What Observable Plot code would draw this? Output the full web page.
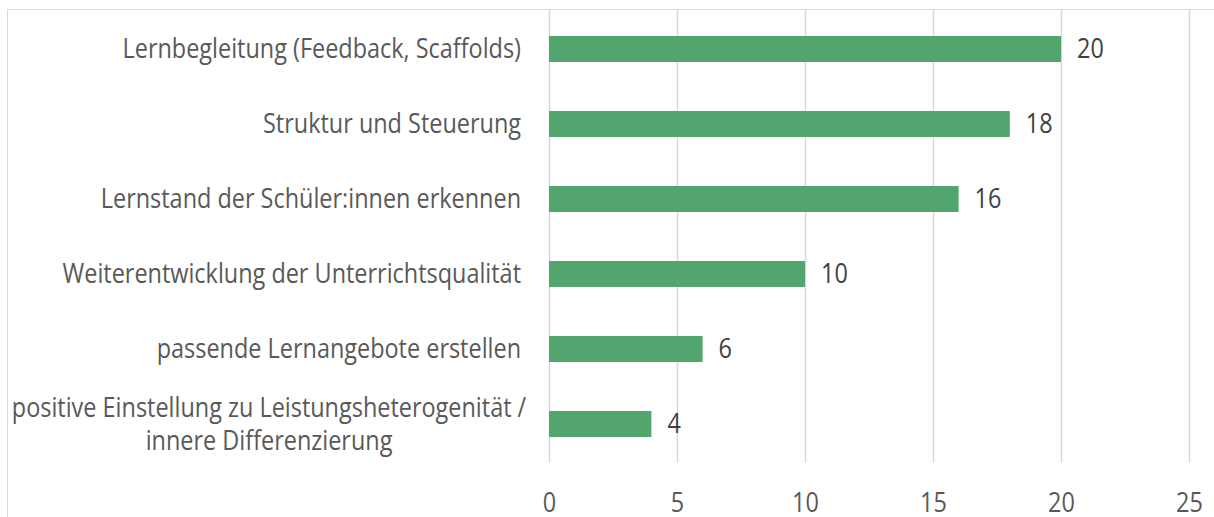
<!DOCTYPE html>
<html>
<head>
<meta charset="utf-8">
<script src="https://cdn.jsdelivr.net/npm/d3@7"></script>
<script src="https://cdn.jsdelivr.net/npm/@observablehq/plot@0.6"></script>
<style>
  html, body { margin: 0; padding: 0; background: #fff; }
  #wrap { position: relative; width: 1214px; height: 517px; overflow: hidden; }
  #border { position: absolute; left: 7px; top: 9px; width: 1220px; height: 530px; border: 1.5px solid #d9d9d9; pointer-events: none; }
  svg text { font-family: "Open Sans", sans-serif; font-weight: 400; }
</style>
</head>
<body>
<div id="wrap"><div id="border"></div></div>
<script>
const categories = [
  "Lernbegleitung (Feedback, Scaffolds)",
  "Struktur und Steuerung",
  "Lernstand der Schüler:innen erkennen",
  "Weiterentwicklung der Unterrichtsqualität",
  "passende Lernangebote erstellen",
  "positive Einstellung zu Leistungsheterogenität /\ninnere Differenzierung"
];
const values = [20, 18, 16, 10, 6, 4];
const xTicks = [0, 5, 10, 15, 20, 25];

const data = categories.map((c, i) => ({category: c, value: values[i]}));
const single = data.filter(d => !d.category.includes("\n"));
const multi = data.filter(d => d.category.includes("\n"));

const chart = Plot.plot({
  width: 1214,
  height: 517,
  marginLeft: 549,
  marginRight: 25,
  marginTop: 10,
  marginBottom: 54,
  style: {fontFamily: "'Open Sans', sans-serif", fontSize: "27px", color: "#595959", background: "transparent"},
  x: {domain: [0, 25], ticks: xTicks},
  y: {domain: categories, paddingInner: 0.656, paddingOuter: 0.328},
  marks: [
    Plot.ruleX(xTicks, {stroke: "#d9d9d9", strokeWidth: 1.5, strokeOpacity: 1}),
    Plot.barX(data, {x: "value", y: "category", fill: "#52a56c"}),
    Plot.text(data, {x: "value", y: "category", text: d => String(d.value), textAnchor: "start", dx: 15.5, fill: "#404040", fontSize: 27}),
    Plot.text(single, {x: () => 0, y: "category", text: "category", textAnchor: "end", dx: -28.5, fill: "#595959", fontSize: 27}),
    Plot.text(multi, {x: () => 0, y: "category", text: d => d.category.split("\n")[0], textAnchor: "middle", dx: -280.5, dy: -16.5, fill: "#595959", fontSize: 27}),
    Plot.text(multi, {x: () => 0, y: "category", text: d => d.category.split("\n")[1], textAnchor: "middle", dx: -280.5, dy: 16.5, fill: "#595959", fontSize: 27}),
    Plot.axisX({ticks: xTicks, tickSize: 0, tickPadding: 29.5, fontSize: 27, fill: "#595959", label: null}),
    Plot.axisY({ticks: [], label: null, tickSize: 0})
  ]
});
document.getElementById("wrap").prepend(chart);
// narrow the glyphs to match the reference's condensed face
chart.querySelectorAll("text").forEach(el => {
  const w = el.getComputedTextLength();
  if (w > 0) {
    el.setAttribute("textLength", (w * 0.868).toFixed(2));
    el.setAttribute("lengthAdjust", "spacingAndGlyphs");
  }
});
</script>
</body>
</html>
